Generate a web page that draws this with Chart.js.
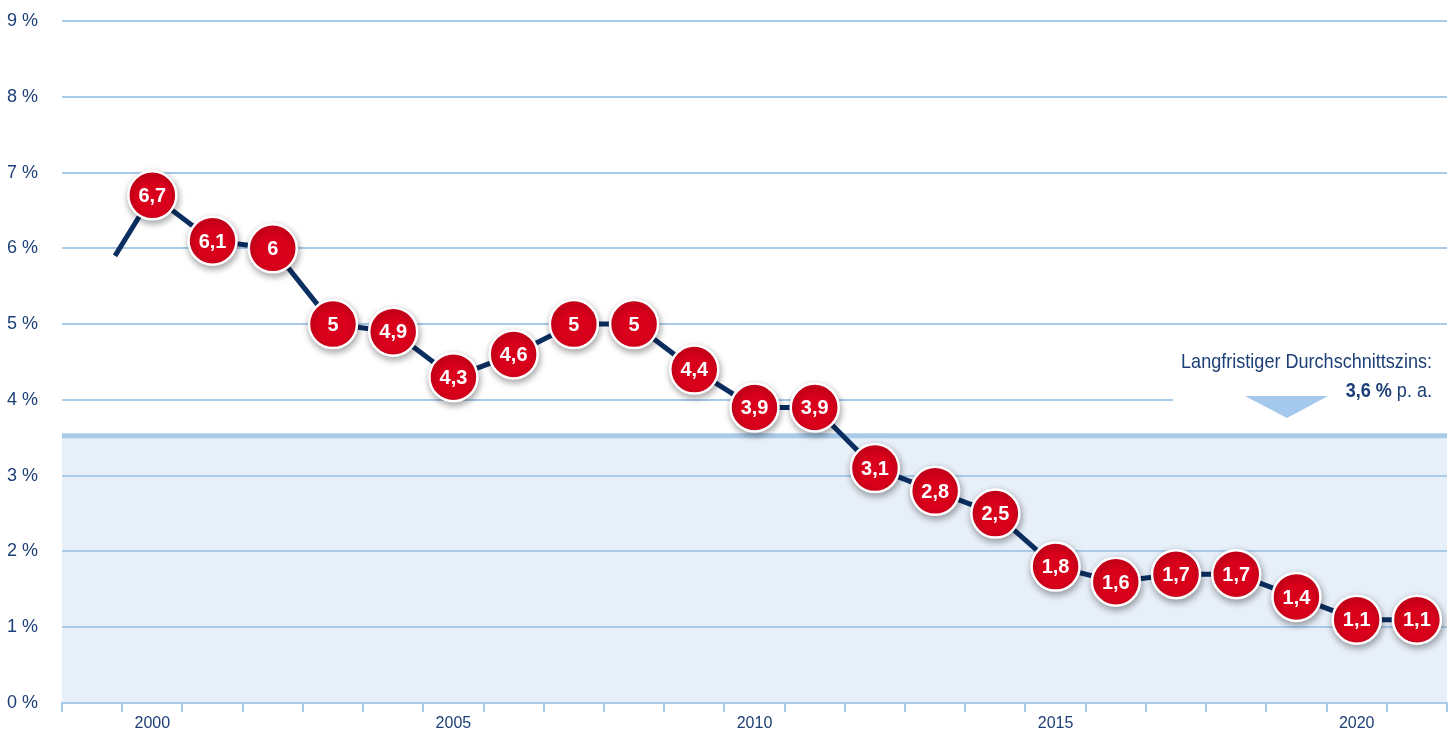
<!DOCTYPE html>
<html>
<head>
<meta charset="utf-8">
<script src="https://cdn.jsdelivr.net/npm/chart.js@4/dist/chart.umd.min.js"></script>
<style>
  html, body { margin: 0; padding: 0; background: #fff; }
  #wrap { width: 1456px; height: 733px; }
</style>
</head>
<body>
<div id="wrap"><canvas id="zinsChart" width="1456" height="733"></canvas></div>
<script>
// Jahre auf der x-Achse
var years = [1999, 2000, 2001, 2002, 2003, 2004, 2005, 2006, 2007, 2008, 2009, 2010,
             2011, 2012, 2013, 2014, 2015, 2016, 2017, 2018, 2019, 2020, 2021];
// Zinssatz je Jahr (ab 2000), in %
var rateYears = [2000, 2001, 2002, 2003, 2004, 2005, 2006, 2007, 2008, 2009, 2010,
                 2011, 2012, 2013, 2014, 2015, 2016, 2017, 2018, 2019, 2020, 2021];
var rates = [6.7, 6.1, 6, 5, 4.9, 4.3, 4.6, 5, 5, 4.4, 3.9,
             3.9, 3.1, 2.8, 2.5, 1.8, 1.6, 1.7, 1.7, 1.4, 1.1, 1.1];
// Linie beginnt angeschnitten vor 2000
var lineStart = { x: 1999.38, y: 5.9 };
// Langfristiger Durchschnitt
var avgRate = 3.6;
var avgLevel = 3.52;
var yTicks = [0, 1, 2, 3, 4, 5, 6, 7, 8, 9];

var NAVY = '#0c2f62';
var TEXT = '#1d3f77';
var GRID = '#a9cbea';
var RED = '#d9001b';
var SHADE = '#e7eff9';

var fontFam = '"Liberation Sans", Arial, sans-serif';

var linePoints = [lineStart].concat(rateYears.map(function (y, i) { return { x: y, y: rates[i] }; }));
var markPoints = rateYears.map(function (y, i) { return { x: y, y: rates[i] }; });

var fmt = function (v) { return String(v).replace('.', ','); };

// schmal gezeichneter Text (Condensed-Ersatz)
function narrowText(ctx, text, x, y, sx, align) {
    ctx.save();
    ctx.translate(x, y);
    ctx.scale(sx, 1);
    ctx.textAlign = align;
    ctx.fillText(text, 0, 0);
    ctx.restore();
}

var backgroundPlugin = {
    id: 'background',
    beforeDraw: function (chart) {
        var ctx = chart.ctx, a = chart.chartArea, ys = chart.scales.y;
        var yAvg = ys.getPixelForValue(avgLevel);
        ctx.save();
        ctx.fillStyle = SHADE;
        ctx.fillRect(a.left, yAvg, a.right - a.left, a.bottom - yAvg);
        ctx.restore();
    },
    beforeDatasetsDraw: function (chart) {
        var ctx = chart.ctx, a = chart.chartArea, ys = chart.scales.y;
        var yAvg = ys.getPixelForValue(avgLevel);
        var y4 = ys.getPixelForValue(4);
        ctx.save();
        // Lücke in der 4%-Linie für die Beschriftung
        ctx.fillStyle = '#fff';
        ctx.fillRect(1173, y4 - 2, a.right - 1173 + 2, 4);
        // Durchschnittslinie
        ctx.fillStyle = GRID;
        ctx.fillRect(a.left, yAvg - 3, a.right - a.left, 5);
        // Dreieck
        ctx.fillStyle = '#a4c9ec';
        ctx.beginPath();
        ctx.moveTo(1245, 396);
        ctx.lineTo(1328, 396);
        ctx.lineTo(1287, 418);
        ctx.closePath();
        ctx.fill();
        // Beschriftung
        var sx = 0.86;
        ctx.fillStyle = TEXT;
        ctx.textBaseline = 'alphabetic';
        ctx.font = '21px ' + fontFam;
        narrowText(ctx, 'Langfristiger Durchschnittszins:', 1432, 368, sx, 'right');
        var tail = ' p. a.';
        var tw = ctx.measureText(tail).width * sx;
        narrowText(ctx, tail, 1432, 397, sx, 'right');
        ctx.font = 'bold 21px ' + fontFam;
        narrowText(ctx, fmt(avgRate) + ' %', 1432 - tw, 397, sx, 'right');
        ctx.restore();
    },
    beforeDatasetDraw: function (chart, args) {
        if (args.index === 1) {
            var ctx = chart.ctx;
            ctx.save();
            ctx.shadowColor = 'rgba(0,0,0,0.35)';
            ctx.shadowBlur = 7;
            ctx.shadowOffsetX = 1;
            ctx.shadowOffsetY = 3;
        }
    },
    afterDatasetDraw: function (chart, args) {
        if (args.index === 1) {
            chart.ctx.restore();
        }
    },
    afterDatasetsDraw: function (chart) {
        var ctx = chart.ctx;
        var meta = chart.getDatasetMeta(1);
        ctx.save();
        ctx.fillStyle = '#fff';
        ctx.textBaseline = 'middle';
        ctx.font = 'bold 21px ' + fontFam;
        meta.data.forEach(function (pt, i) {
            narrowText(ctx, fmt(rates[i]), pt.x, pt.y + 1, 0.95, 'center');
        });
        ctx.restore();
    }
};

var ctx = document.getElementById('zinsChart').getContext('2d');
var chart = new Chart(ctx, {
    type: 'line',
    data: {
        labels: years.map(String),
        datasets: [{
            data: linePoints,
            xAxisID: 'xl',
            order: 1,
            borderColor: NAVY,
            borderWidth: 5,
            pointRadius: 0,
            tension: 0,
            fill: false
        }, {
            data: markPoints,
            xAxisID: 'xl',
            order: 0,
            showLine: false,
            pointRadius: 24,
            pointBackgroundColor: RED,
            pointBorderColor: '#fff',
            pointBorderWidth: 2.5
        }]
    },
    options: {
        responsive: false,
        animation: false,
        layout: { autoPadding: false, padding: { left: 0, right: 9, top: 21, bottom: 0 } },
        plugins: {
            legend: { display: false },
            tooltip: { enabled: false }
        },
        scales: {
            xl: {
                type: 'linear',
                display: false,
                min: 1998.5,
                max: 2021.5
            },
            x: {
                type: 'category',
                position: 'bottom',
                offset: true,
                grid: {
                    offset: true,
                    drawOnChartArea: false,
                    color: GRID,
                    lineWidth: 2,
                    tickLength: 9
                },
                border: { color: GRID, width: 2 },
                ticks: {
                    color: TEXT,
                    font: { family: fontFam, size: 16 },
                    padding: 2,
                    autoSkip: false,
                    maxRotation: 0,
                    callback: function (val, idx) {
                        var y = years[idx];
                        return y % 5 === 0 ? String(y) : '';
                    }
                },
                afterFit: function (scale) {
                    scale.height = 30;
                    scale.paddingLeft = 0;
                    scale.paddingRight = 0;
                }
            },
            y: {
                min: 0,
                max: 9,
                afterBuildTicks: function (scale) {
                    scale.ticks = yTicks.map(function (v) { return { value: v }; });
                },
                grid: { color: GRID, lineWidth: 2, drawTicks: false },
                border: { display: false },
                ticks: {
                    color: TEXT,
                    font: { family: fontFam, size: 18 },
                    padding: 24,
                    callback: function (v) { return v + ' %'; }
                },
                afterFit: function (scale) {
                    scale.width = 62;
                    scale.paddingTop = 0;
                    scale.paddingBottom = 0;
                }
            }
        }
    },
    plugins: [backgroundPlugin]
});
</script>
</body>
</html>
